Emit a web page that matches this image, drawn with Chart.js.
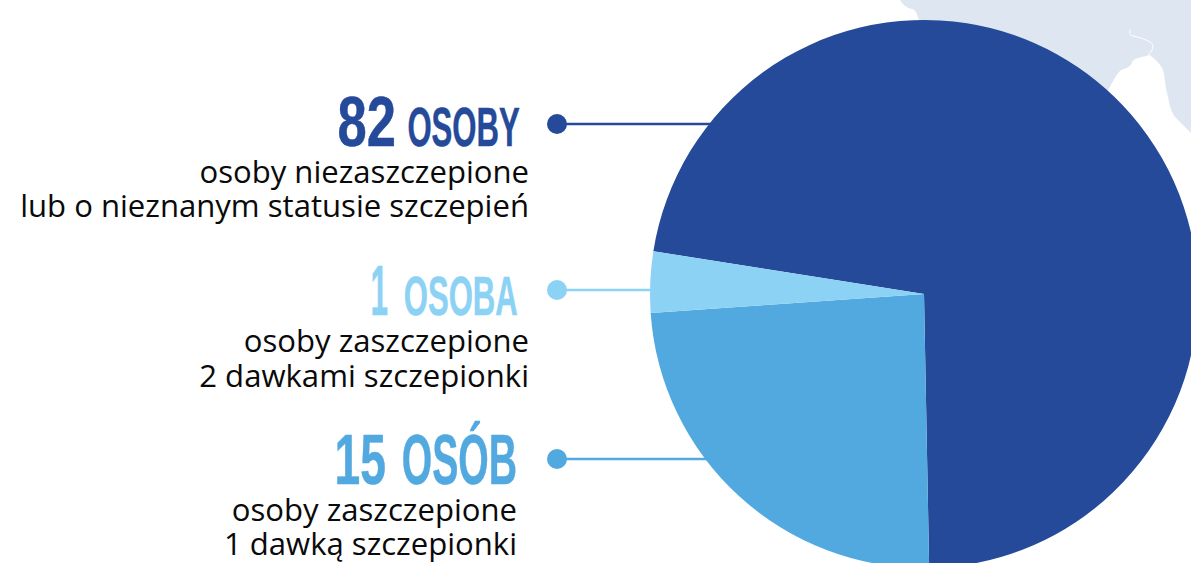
<!DOCTYPE html>
<html lang="pl">
<head>
<meta charset="utf-8">
<script src="https://cdn.jsdelivr.net/npm/chart.js@4"></script>
<style>
html,body{margin:0;padding:0;background:#fff;overflow:hidden;width:1191px;height:563px}
#stage{position:relative;width:1191px;height:563px;overflow:hidden}
#bg{position:absolute;left:0;top:0}
#pie{position:absolute;left:624px;top:-6px;width:600px;height:600px}
.t{position:absolute;white-space:pre;line-height:1}
.sub{font-family:"Open Sans",sans-serif;color:#0a0a0a}
.head{font-family:"Liberation Sans Narrow","Liberation Sans",sans-serif;font-weight:700;-webkit-text-stroke:0.5px currentColor}
</style>
</head>
<body>
<div id="stage">
<svg id="bg" width="1191" height="563" viewBox="0 0 1191 563">
  <path fill="#dee7f1" d="M900 0L1191 0L1191 133L1176 118C1170 112 1169 100 1167 93C1165 85 1165 74 1162 68C1158 61 1153 58 1150 55C1142 57 1134 58 1132 62C1131 68 1124 68 1120 71C1115 76 1112 84 1108 90L1000 150L918 18C917 12 914 9 912 9C907 8 903 5 900 0Z"/>
  <path fill="none" stroke="#fff" stroke-width="1" d="M1130 30C1129 33 1130 35 1133 36C1143 38 1153 42 1153 46C1153 50 1150 53 1148 55"/>
  <g id="connectors"></g>
</svg>
<canvas id="pie" width="600" height="600"></canvas>
</div>
<script>
const categories = ["osoby niezaszczepione lub o nieznanym statusie szczepień", "osoby zaszczepione 1 dawką szczepionki", "osoby zaszczepione 2 dawkami szczepionki"];
const sliceShares = [72.2, 24.2, 3.6];
const sliceColors = ["#254a9a", "#52a9e0", "#8cd2f5"];
const counts = ["82", "15", "1"];
const units = ["OSOBY", "OSÓB", "OSOBA"];
const subLines = [["osoby niezaszczepione", "lub o nieznanym statusie szczepień"], ["osoby zaszczepione", "1 dawką szczepionki"], ["osoby zaszczepione", "2 dawkami szczepionki"]];

new Chart(document.getElementById("pie"), {
  type: "pie",
  data: { labels: categories, datasets: [{ data: sliceShares, backgroundColor: sliceColors, borderWidth: 0 }] },
  options: {
    responsive: false, animation: false, rotation: 279,
    layout: { padding: 26 },
    plugins: { legend: { display: false }, tooltip: { enabled: false } }
  }
});

const stage = document.getElementById("stage");
function put(text, right, baseline, cls, size, color, sx) {
  const el = document.createElement("div");
  el.className = "t " + cls;
  el.textContent = text;
  el.style.fontSize = size + "px";
  if (color) el.style.color = color;
  el.style.right = (1191 - right) + "px";
  stage.appendChild(el);
  const probe = el.getBoundingClientRect();
  const ctx = document.createElement("canvas").getContext("2d");
  const cs = getComputedStyle(el);
  ctx.font = cs.fontWeight + " " + cs.fontSize + " " + cs.fontFamily;
  const m = ctx.measureText("x");
  const asc = m.fontBoundingBoxAscent, desc = m.fontBoundingBoxDescent;
  const base = (probe.height - (asc + desc)) / 2 + asc;
  el.style.top = (baseline - base) + "px";
  if (sx) { el.style.transformOrigin = "100% " + base + "px"; el.style.transform = "scaleX(" + sx + ")"; }
}
const headRows = [
  { base: 146, numRight: 396, unitRight: 520, numSize: 70, unitSize: 55, numSx: 0.75, unitSx: 0.565 },
  { base: 484, numRight: 386, unitRight: 517, numSize: 70, unitSize: 70, numSx: 0.66, unitSx: 0.56 },
  { base: 315, numRight: 388, unitRight: 518, numSize: 70, unitSize: 55, numSx: 0.45, unitSx: 0.565 }
];
const subRows = [[184, 218, 529], [522, 556, 517], [353, 388, 529]];
const connectorY = [124, 459, 290];
const connectorEnd = [720, 715, 660];
const svgNS = "http://www.w3.org/2000/svg";
const conn = document.getElementById("connectors");
counts.forEach((c, i) => {
  const h = headRows[i];
  put(c, h.numRight, h.base, "head", h.numSize, sliceColors[i], h.numSx);
  put(units[i], h.unitRight, h.base, "head", h.unitSize, sliceColors[i], h.unitSx);
  put(subLines[i][0], subRows[i][2], subRows[i][0], "sub", 31.1);
  put(subLines[i][1], subRows[i][2], subRows[i][1], "sub", 31.1);
  const line = document.createElementNS(svgNS, "line");
  line.setAttribute("x1", 557); line.setAttribute("x2", connectorEnd[i]);
  line.setAttribute("y1", connectorY[i]); line.setAttribute("y2", connectorY[i]);
  line.setAttribute("stroke", sliceColors[i]); line.setAttribute("stroke-width", 2.5);
  conn.appendChild(line);
  const dot = document.createElementNS(svgNS, "circle");
  dot.setAttribute("cx", 557); dot.setAttribute("cy", connectorY[i]); dot.setAttribute("r", 10);
  dot.setAttribute("fill", sliceColors[i]);
  conn.appendChild(dot);
});
</script>
</body>
</html>
